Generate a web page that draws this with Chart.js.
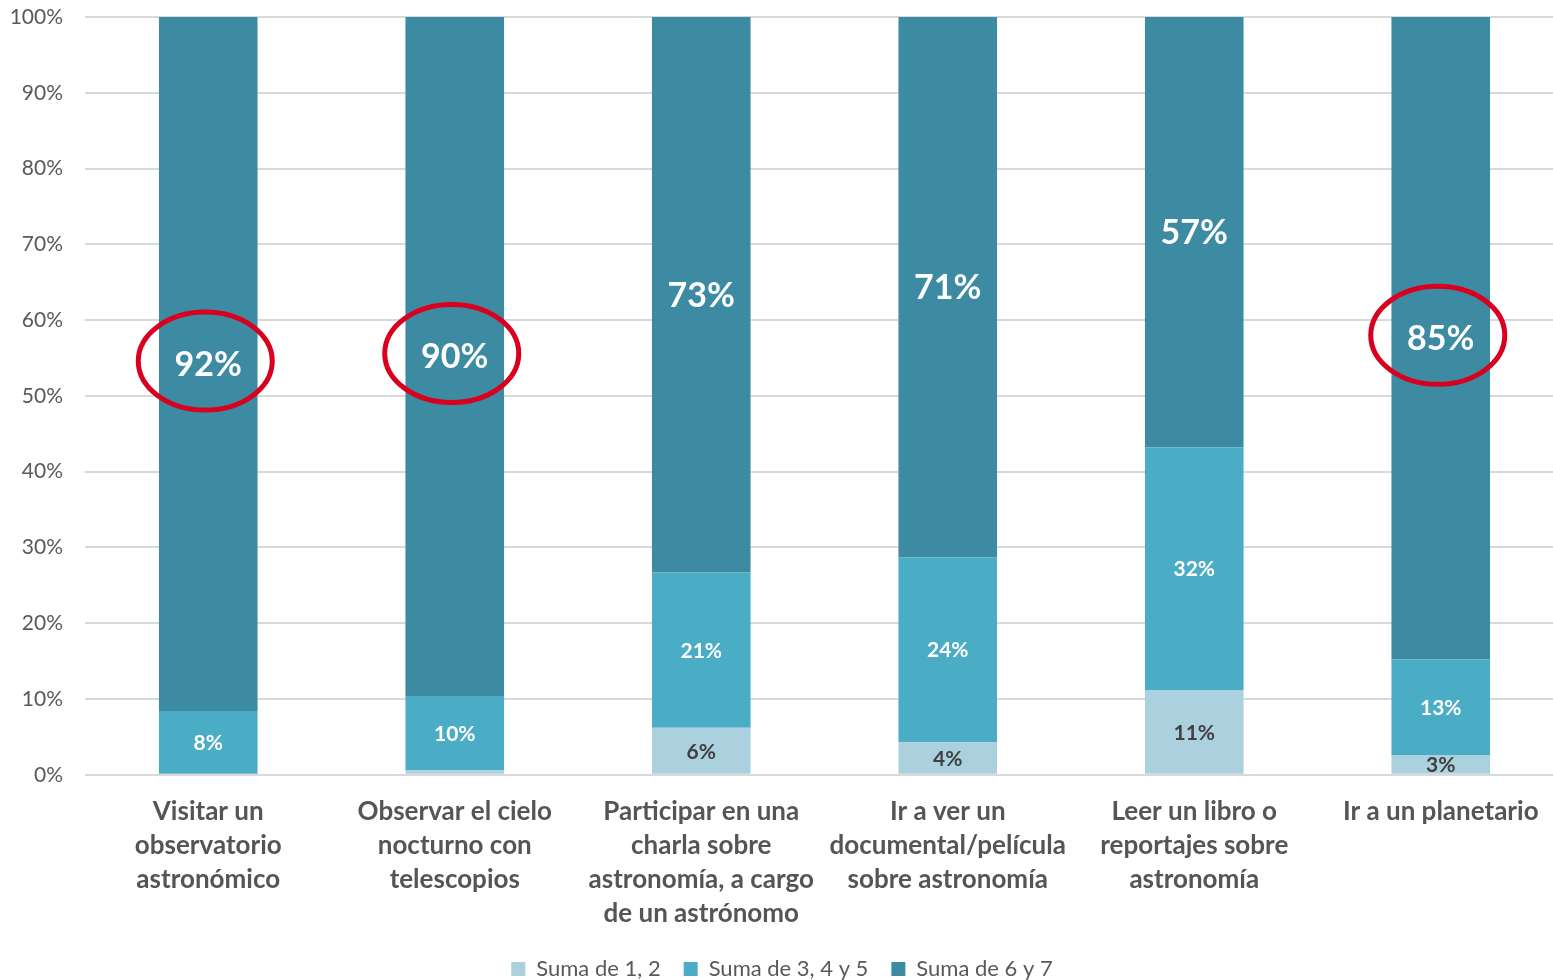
<!DOCTYPE html>
<html><head><meta charset="utf-8">
<script src="https://cdn.jsdelivr.net/npm/chart.js@4.4.1/dist/chart.umd.min.js"></script>
<style>html,body{margin:0;padding:0;background:#fff;overflow:hidden}#wrap{width:1553px;height:980px;overflow:hidden}</style>
</head><body><div id="wrap"><canvas id="c" width="1564" height="980"></canvas></div>
<script>
const categories = [
  ["Visitar un","observatorio","astronómico"],
  ["Observar el cielo","nocturno con","telescopios"],
  ["Participar en una","charla sobre","astronomía, a cargo","de un astrónomo"],
  ["Ir a ver un","documental/película","sobre astronomía"],
  ["Leer un libro o","reportajes sobre","astronomía"],
  ["Ir a un planetario"]
];
const seriesNames = ["Suma de 1, 2","Suma de 3, 4 y 5","Suma de 6 y 7"];
const suma12 = [0, 0.6, 6.2, 4.3, 11.2, 2.6];
const suma345 = [8.4, 9.8, 20.5, 24.4, 32.0, 12.6];
const suma67 = [91.6, 89.6, 73.3, 71.3, 56.8, 84.8];
const yTicks = [0,10,20,30,40,50,60,70,80,90,100];
const highlighted = [0, 1, 5];

const colors = ["#abd0de", "#4bacc6", "#3c8ba2"];
const labelColors = ["#404040", "#ffffff", "#ffffff"];
const labelFonts = ["bold 21px Lato", "bold 21px Lato", "bold 34px Lato"];

const labelsPlugin = {
  id: 'segLabels',
  afterDatasetsDraw(chart) {
    const ctx = chart.ctx;
    ctx.save();
    ctx.textAlign = 'center';
    ctx.textBaseline = 'middle';
    chart.data.datasets.forEach((ds, di) => {
      const meta = chart.getDatasetMeta(di);
      meta.data.forEach((bar, i) => {
        const v = ds.data[i];
        if (v < 1) return;
        const p = bar.getProps(['x','y','base'], true);
        const cy = (p.y + p.base) / 2;
        ctx.font = labelFonts[di];
        ctx.fillStyle = labelColors[di];
        ctx.fillText(Math.round(v) + '%', p.x, cy + 1);
        if (di === 2 && highlighted.includes(i)) {
          ctx.beginPath();
          ctx.strokeStyle = '#d8001e';
          ctx.lineWidth = 5;
          ctx.ellipse(p.x - 3, cy - 3, 67, 49, 0, 0, Math.PI * 2);
          ctx.stroke();
        }
      });
    });
    ctx.restore();
  }
};

new Chart(document.getElementById('c'), {
  type: 'bar',
  data: {
    labels: categories,
    datasets: [
      { label: seriesNames[0], data: suma12, backgroundColor: colors[0] },
      { label: seriesNames[1], data: suma345, backgroundColor: colors[1] },
      { label: seriesNames[2], data: suma67, backgroundColor: colors[2] }
    ]
  },
  options: {
    responsive: false,
    animation: false,
    devicePixelRatio: 1,
    layout: { padding: { top: 0, right: 0, left: 0, bottom: -10 } },
    datasets: { bar: { barPercentage: 0.8, categoryPercentage: 0.5 } },
    scales: {
      x: {
        stacked: true,
        afterFit(s) { s.height -= 8; },
        grid: { display: false },
        border: { display: false },
        ticks: { color: '#555555', font: { family: 'Lato', weight: 'bold', size: 26, lineHeight: 1.31 }, padding: 12, maxRotation: 0, autoSkip: false }
      },
      y: {
        stacked: true,
        min: 0, max: 100,
        afterFit(s) { s.width = 85; s.paddingTop = 17; s.paddingBottom = 10; },
        afterBuildTicks(s) { s.ticks = yTicks.map(v => ({ value: v })); },
        grid: { color: '#d9d9d9', lineWidth: 2, drawTicks: false },
        border: { display: false },
        ticks: { color: '#595959', font: { family: 'Lato', size: 21 }, padding: 22, callback: v => v + '%' }
      }
    },
    plugins: {
      legend: {
        position: 'bottom',
        labels: { color: '#595959', font: { family: 'Lato', size: 22 }, boxWidth: 14, boxHeight: 14, padding: 23, useBorderRadius: false }
      },
      tooltip: { enabled: false }
    }
  },
  plugins: [labelsPlugin]
});
</script></body></html>
